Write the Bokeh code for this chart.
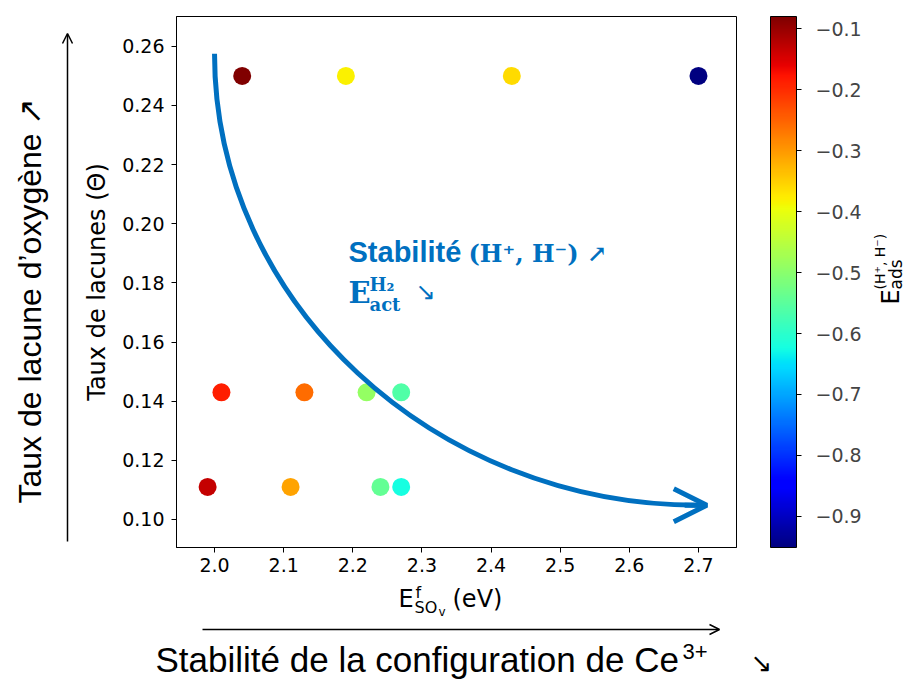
import numpy as np
from math import pi
from bokeh.plotting import figure
from bokeh.layouts import row, column
from bokeh.models import (Range1d, FixedTicker, ColorBar, LinearColorMapper, Label,
                          Arrow, OpenHead, ColumnDataSource)
from bokeh.transform import linear_cmap
from bokeh.embed import file_html
from bokeh.resources import INLINE

# ---------------- data ----------------
e_form = [2.04, 2.19, 2.43, 2.70, 2.01, 2.13, 2.22, 2.27, 1.99, 2.11, 2.24, 2.27]
theta = [0.25, 0.25, 0.25, 0.25, 0.143, 0.143, 0.143, 0.143, 0.111, 0.111, 0.111, 0.111]
e_ads = [-0.080, -0.381, -0.361, -0.951, -0.186, -0.259, -0.489, -0.562,
         -0.134, -0.311, -0.542, -0.624]

x_ticks = [2.0, 2.1, 2.2, 2.3, 2.4, 2.5, 2.6, 2.7]
x_tick_labels = ["2.0", "2.1", "2.2", "2.3", "2.4", "2.5", "2.6", "2.7"]
y_ticks = [0.10, 0.12, 0.14, 0.16, 0.18, 0.20, 0.22, 0.24, 0.26]
y_tick_labels = ["0.10", "0.12", "0.14", "0.16", "0.18", "0.20", "0.22", "0.24", "0.26"]
cb_ticks = [-0.9, -0.8, -0.7, -0.6, -0.5, -0.4, -0.3, -0.2, -0.1]
cb_tick_labels = ["\u22120.9", "\u22120.8", "\u22120.7", "\u22120.6", "\u22120.5",
                  "\u22120.4", "\u22120.3", "\u22120.2", "\u22120.1"]

# trend arrow (annotation) in data coordinates
arc_start = (2.0, 0.2575)
arc_end = (2.70, 0.1048)
arc_tip_x = 2.712

BLUE = "#0070C0"
AX_FONT = "DejaVu Sans"
OUT_FONT = "Liberation Sans"

# page geometry (pixels)
W_LEFT, W_MAIN, W_RIGHT = 76, 786, 46
FL, FT, FB = 176, 16, 547          # main frame left / top / bottom (page pixels)
H_TOP = FB + 34
H_BOTTOM = 679 - H_TOP
BASE_FIX = 0.37                    # alphabetic-baseline correction (em)


def jet(n=256):
    t = np.linspace(0, 1, n)
    r = np.interp(t, [0, 0.35, 0.66, 0.89, 1], [0, 0, 1, 1, 0.5])
    g = np.interp(t, [0, 0.125, 0.375, 0.64, 0.91, 1], [0, 0, 1, 1, 0, 0])
    b = np.interp(t, [0, 0.11, 0.34, 0.65, 1], [0.5, 1, 1, 0, 0])
    return ["#%02x%02x%02x" % (int(round(255 * a)), int(round(255 * c)), int(round(255 * d)))
            for a, c, d in zip(r, g, b)]


palette = jet()
low, high = min(e_ads), max(e_ads)


def lab(fig, text, x, y, size, font=AX_FONT, color="black", style="normal",
        align="left", baseline="alphabetic", angle=0.0, units="data"):
    fig.add_layout(Label(x=x, y=y, x_units=units, y_units=units,
                         text=text, text_font=font, text_font_size="%gpx" % size,
                         text_color=color, text_font_style=style,
                         text_align=align, text_baseline=baseline, angle=angle))


def strip(width, height, x0, xr, yr):
    f = figure(width=width, height=height,
               x_range=Range1d(*xr), y_range=Range1d(*yr),
               output_backend="svg", toolbar_location=None,
               x_axis_location=None, y_axis_location=None,
               min_border=0, min_border_left=0, min_border_right=0,
               min_border_top=0, min_border_bottom=0)
    f.outline_line_color = None
    f.background_fill_color = "white"
    f.border_fill_color = "white"
    f.grid.visible = False
    return f


# ---------------- main plot ----------------
p = figure(frame_width=560, frame_height=FB - FT,
           x_range=Range1d(1.945, 2.755), y_range=Range1d(0.0905, 0.2701),
           output_backend="svg", toolbar_location=None,
           min_border_left=FL - W_LEFT, min_border_right=W_LEFT + W_MAIN - 736,
           min_border_top=FT, min_border_bottom=H_TOP - FB)
p.background_fill_color = "white"
p.border_fill_color = "white"
p.outline_line_color = "black"
p.outline_line_width = 1
p.xgrid.visible = False
p.ygrid.visible = False

for ax in (p.xaxis[0], p.yaxis[0]):
    ax.major_tick_in = 0
    ax.major_tick_out = 5
    ax.minor_tick_line_color = None
    ax.major_label_text_font = AX_FONT
    ax.major_label_text_font_size = "19px"
    ax.major_label_text_color = "black"
    ax.axis_line_color = "black"
    ax.major_tick_line_color = "black"

p.xaxis.ticker = FixedTicker(ticks=x_ticks)
p.xaxis.major_label_overrides = dict(zip(x_ticks, x_tick_labels))
p.xaxis.major_label_standoff = 5
p.yaxis.ticker = FixedTicker(ticks=y_ticks)
p.yaxis.major_label_overrides = dict(zip(y_ticks, y_tick_labels))
p.yaxis.major_label_standoff = 7
p.yaxis.axis_label = "Taux de lacunes (\u0398)"
p.yaxis.axis_label_text_font = AX_FONT
p.yaxis.axis_label_text_font_style = "normal"
p.yaxis.axis_label_text_font_size = "24px"
p.yaxis.axis_label_text_color = "black"
p.yaxis.axis_label_standoff = 8

src = ColumnDataSource(dict(x=e_form, y=theta, e=e_ads))
p.scatter("x", "y", source=src, size=18, line_color=None,
          fill_color=linear_cmap("e", palette, low, high))

# curved trend arrow
k = 0.5523
p.bezier(x0=[arc_start[0]], y0=[arc_start[1]], x1=[arc_end[0]], y1=[arc_end[1]],
         cx0=[arc_start[0]], cy0=[arc_start[1] - k * (arc_start[1] - arc_end[1])],
         cx1=[arc_tip_x - k * (arc_tip_x - arc_start[0])], cy1=[arc_end[1]],
         line_color=BLUE, line_width=5)
p.add_layout(Arrow(end=OpenHead(size=33, line_width=5, line_color=BLUE),
                   x_start=arc_end[0] - 0.02, y_start=arc_end[1],
                   x_end=arc_tip_x, y_end=arc_end[1],
                   line_color=BLUE, line_width=5))


def plab(text, wx, wy, size, **kw):
    """label in main plot, page pixel position of the alphabetic baseline"""
    lab(p, text, wx - FL, FB - (wy - BASE_FIX * size), size, units="screen", **kw)


plab("Stabilit\u00e9", 348, 262, 29, font=OUT_FONT, color=BLUE, style="bold")
plab("(H\u207a, H\u207b) \u2197", 468, 262, 24, font="DejaVu Serif", color=BLUE, style="bold")
plab("E", 348, 303, 29, font="DejaVu Serif", color=BLUE, style="bold")
plab("H\u2082", 369, 291, 18, font="DejaVu Serif", color=BLUE, style="bold")
plab("act", 369, 311, 18, font="DejaVu Serif", color=BLUE, style="bold")
plab("\u2198", 415, 300, 24, font="DejaVu Sans", color=BLUE)

mapper = LinearColorMapper(palette=palette, low=low, high=high)
cb = ColorBar(color_mapper=mapper, location=(770 - FL, 0), width=26, height=FB - FT,
              padding=0, margin=0, ticker=FixedTicker(ticks=cb_ticks),
              major_label_overrides=dict(zip(cb_ticks, cb_tick_labels)),
              major_label_text_font=AX_FONT, major_label_text_font_size="19px",
              major_tick_in=0, major_tick_out=5, major_tick_line_color="black",
              label_standoff=14, bar_line_color="black", bar_line_width=1,
              background_fill_alpha=0, border_line_color=None)
p.add_layout(cb)

# ---------------- left strip (frame aligned with main frame) ----------------
left = strip(W_LEFT, H_TOP, 0, (0, W_LEFT), (FB, FT))
left.add_layout(Arrow(end=OpenHead(size=10, line_width=1.5), x_start=67, y_start=541,
                      x_end=67, y_end=33, line_width=1.5))
lab(left, "Taux de lacune d\u2019oxyg\u00e8ne \u2197", 29, 300, 32, font=OUT_FONT,
    align="center", baseline="middle", angle=pi / 2)

# ---------------- right strip (colour-bar label) ----------------
XR0 = W_LEFT + W_MAIN
right = strip(W_RIGHT, H_TOP, XR0, (XR0, XR0 + W_RIGHT), (FB, FT))


def rlab(text, bx, y0, size):
    """rotated label: bx = page x of the baseline, y0 = page y where the text starts"""
    lab(right, text, bx - BASE_FIX * size, y0, size, angle=pi / 2)


rlab("E", 899, 304, 24)
rlab("ads", 902, 289, 17)
rlab("(H\u207a, H\u207b)", 885, 289, 14)

# ---------------- bottom strip ----------------
W_ALL = W_LEFT + W_MAIN + W_RIGHT
bottom = strip(W_ALL, H_BOTTOM, 0, (0, W_ALL), (H_TOP + H_BOTTOM, H_TOP))


def blab(text, wx, wy, size, **kw):
    lab(bottom, text, wx, wy - BASE_FIX * size, size, **kw)


blab("E", 398, 607, 24)
blab("f", 415, 598, 16)
blab("SO", 414, 613, 16)
blab("v", 438, 616, 12)
blab("(eV)", 452, 607, 24)
bottom.add_layout(Arrow(end=OpenHead(size=10, line_width=1.5), x_start=202, y_start=629,
                        x_end=719, y_end=629, line_width=1.5))
blab("Stabilit\u00e9 de la configuration de Ce", 155, 672, 35, font=OUT_FONT)
blab("3+", 682, 659, 22, font=OUT_FONT)
blab("\u2198", 750, 672, 26, font="DejaVu Sans")

layout = column(row(left, p, right), bottom)
open("out.html", "w").write(file_html(layout, INLINE))
